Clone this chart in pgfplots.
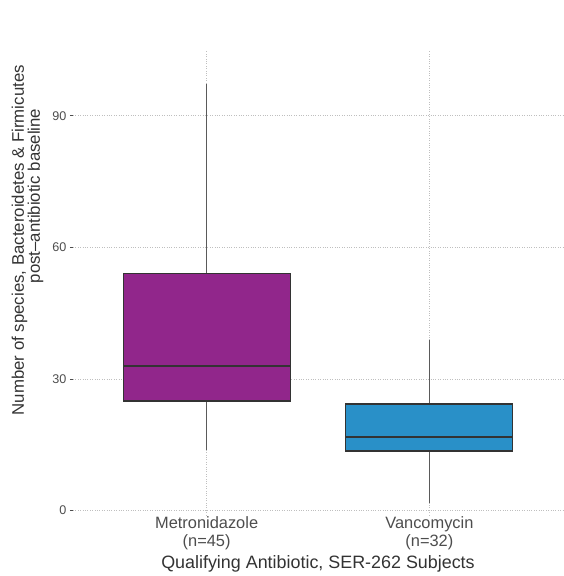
\documentclass[border=0pt]{standalone}
\usepackage{pgfplots}
\pgfplotsset{compat=1.18}
\usepgfplotslibrary{statistics}
\usepackage{fontspec}
\setmainfont{Liberation Sans}
\definecolor{metro}{RGB}{145,38,139}
\definecolor{vanco}{RGB}{41,144,200}
\definecolor{tickgray}{RGB}{77,77,77}
\definecolor{titlegray}{RGB}{51,51,51}
\definecolor{whiskgray}{RGB}{90,90,90}
\begin{document}
\begin{tikzpicture}
\begin{axis}[
  scale only axis,
  width=490pt, height=465pt,
  xmin=0.4, xmax=2.6,
  ymin=-1, ymax=105,
  clip=false,
  xtick={1,2},
  xticklabels={Metronidazole\\(n=45), Vancomycin\\(n=32)},
  xticklabel style={align=center, font=\fontsize{16.4}{18}\selectfont, text=tickgray, anchor=north, inner sep=0pt, yshift=2pt},
  ytick={0,30,60,90},
  yticklabels={0,30,60,90},
  yticklabel style={font=\fontsize{12.6}{14}\selectfont, text=tickgray},
  axis line style={draw=none},
  tick pos=left,
  tick align=outside,
  major tick length=3pt,
  tick style={draw=tickgray, line width=0.6pt},
  xtick style={draw opacity=0},
  grid=major,
  major grid style={draw=black!25, dotted, line width=0.6pt},
  boxplot/every median/.style={line width=2.4pt, draw=titlegray},
  boxplot/every whisker/.style={draw=whiskgray, line width=1.6pt},
  boxplot/whisker extend=0,
  boxplot/draw direction=y,
]
\addplot+[boxplot prepared={lower whisker=13.9, lower quartile=25, median=33, upper quartile=54.1, upper whisker=97.3, draw position=1, box extend=0.75}, fill=metro, draw=titlegray, line width=1.2pt, mark=none] coordinates {};
\addplot+[boxplot prepared={lower whisker=1.8, lower quartile=13.6, median=16.8, upper quartile=24.3, upper whisker=38.9, draw position=2, box extend=0.75}, fill=vanco, draw=titlegray, line width=1.2pt, mark=none] coordinates {};
\node[xshift=-49pt, rotate=90, anchor=base, font=\fontsize{16.8}{18}\selectfont, text=titlegray, inner sep=0pt] at (axis description cs:0,0.591) {Number of species, Bacteroidetes \& Firmicutes};
\node[xshift=-33pt, rotate=90, anchor=base, font=\fontsize{16.8}{18}\selectfont, text=titlegray, inner sep=0pt] at (axis description cs:0,0.686) {post–antibiotic baseline};
\node[anchor=base, font=\fontsize{17.9}{18}\selectfont, text=titlegray, inner sep=0pt, yshift=-53pt] at (axis description cs:0.5,0) {Qualifying Antibiotic, SER-262 Subjects};
\end{axis}
\path[use as bounding box] (current axis.south west) ++(-73pt,-61pt) rectangle ++(563pt,576pt);
\end{tikzpicture}
\end{document}
